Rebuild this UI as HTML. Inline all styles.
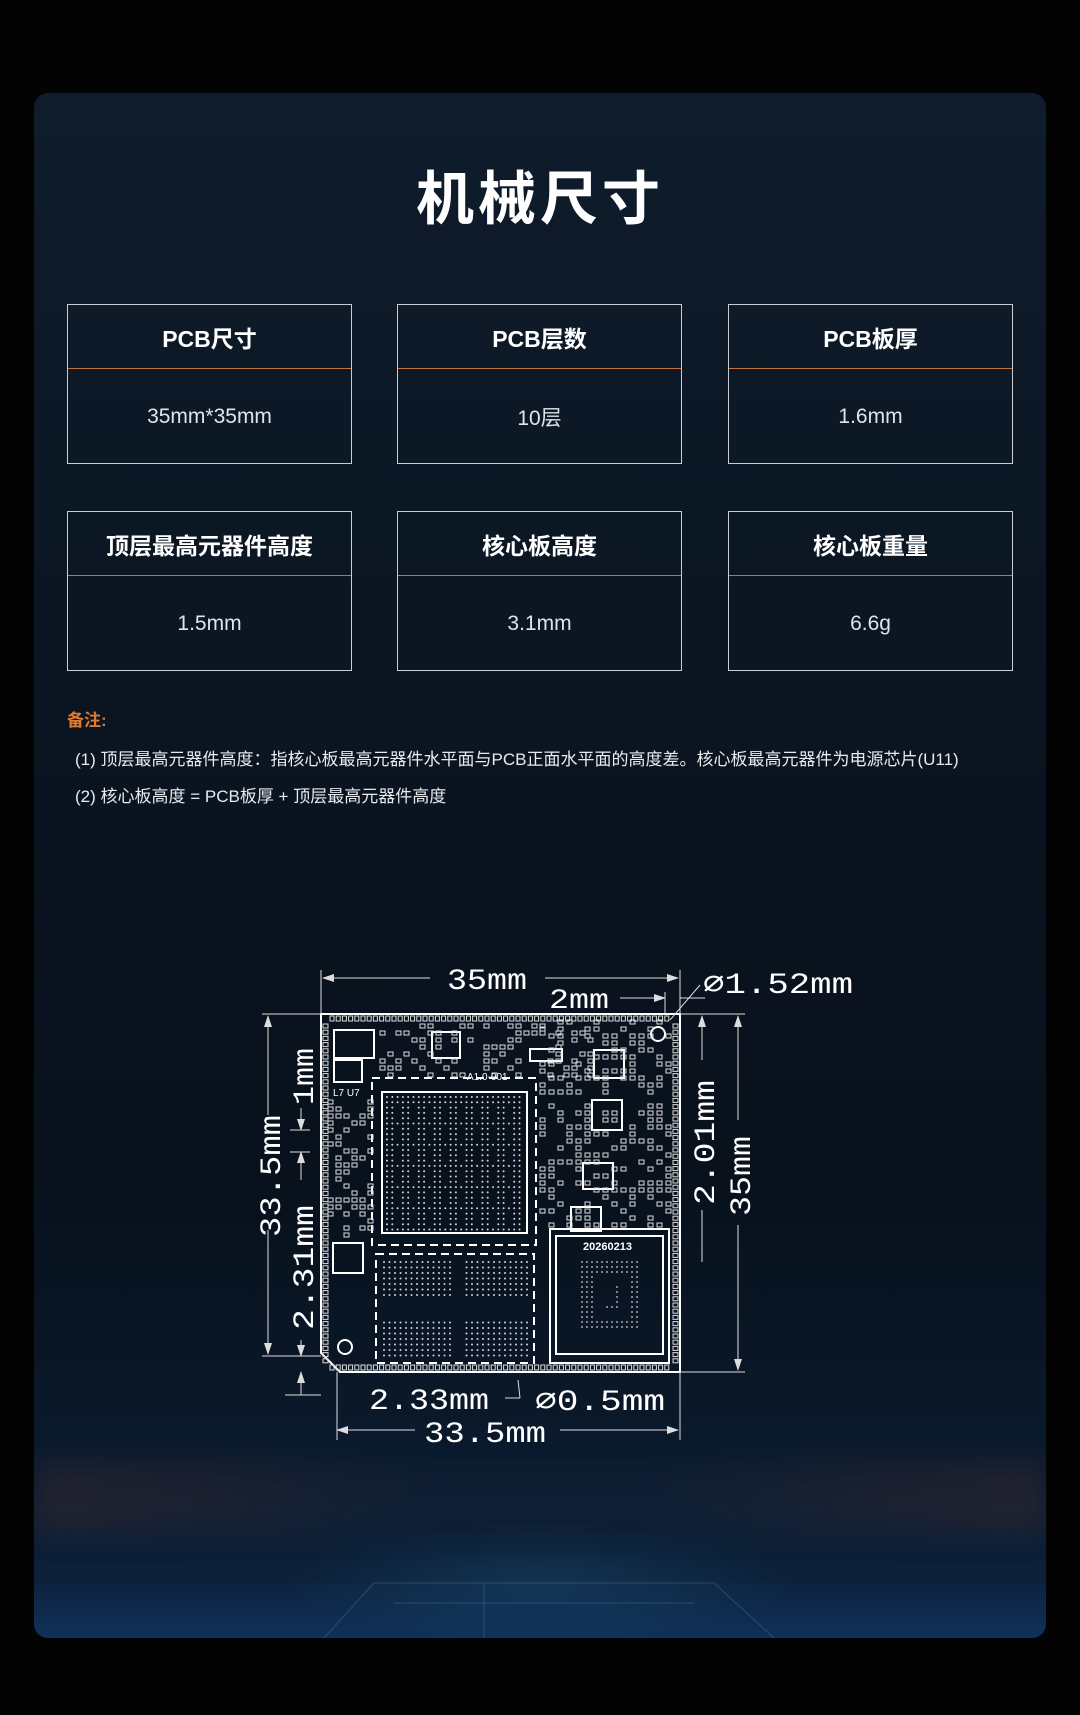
<!DOCTYPE html>
<html><head><meta charset="utf-8">
<style>
html,body{margin:0;padding:0;background:#030303;}
body{width:1080px;height:1715px;position:relative;overflow:hidden;font-family:"Liberation Sans","Noto Sans CJK SC",sans-serif;}
.card{position:absolute;left:34px;top:93px;width:1012px;height:1545px;border-radius:14px;overflow:hidden;
background:linear-gradient(180deg,#0f1c2b 0%,#0b1521 40%,#08111c 70%,#0a1829 85%,#0c2340 100%);}
.glow1{position:absolute;left:0;right:0;top:1370px;height:70px;background:linear-gradient(90deg,rgba(120,60,40,.22),rgba(50,50,70,.08) 40%,rgba(50,50,70,.08) 60%,rgba(120,60,40,.22));filter:blur(14px);}
.glow2{position:absolute;left:250px;width:512px;top:1430px;height:120px;background:radial-gradient(ellipse at center,rgba(40,110,150,.25),rgba(0,0,0,0) 70%);}
.floor{position:absolute;left:0;right:0;top:1490px;height:55px;background:linear-gradient(180deg,rgba(20,60,110,.1),rgba(22,75,135,.35));}
h1{position:absolute;left:0;width:1080px;top:152px;margin:0;text-align:center;color:#fff;font-size:58px;font-weight:bold;letter-spacing:4px;}
.box{position:absolute;width:285px;height:160px;border:1px solid #c9ced6;box-sizing:border-box;}
.box .h{height:63px;border-bottom:1px solid #c8703a;color:#fff;font-weight:bold;font-size:23px;display:flex;align-items:center;justify-content:center;}
.box .v{height:96px;color:#e0e4ea;font-size:21px;display:flex;align-items:center;justify-content:center;}
.note{position:absolute;left:67px;color:#e8eaee;font-size:17px;}
</style></head><body>
<div class="card"><div class="glow1"></div><div class="glow2"></div><div class="floor"></div>
<svg width="1012" height="1545" style="position:absolute;left:0;top:0" stroke="rgba(120,170,200,.25)" fill="none">
<path d="M340,1490 H680 L740,1545 M340,1490 L290,1545 M360,1510 H660 M450,1490 V1545"/>
</svg></div>
<h1>机械尺寸</h1>
<div class="box" style="left:67px;top:304px"><div class="h">PCB尺寸</div><div class="v">35mm*35mm</div></div>
<div class="box" style="left:397px;top:304px"><div class="h">PCB层数</div><div class="v">10层</div></div>
<div class="box" style="left:728px;top:304px"><div class="h">PCB板厚</div><div class="v">1.6mm</div></div>
<div class="box" style="left:67px;top:511px"><div class="h">顶层最高元器件高度</div><div class="v">1.5mm</div></div>
<div class="box" style="left:397px;top:511px"><div class="h">核心板高度</div><div class="v">3.1mm</div></div>
<div class="box" style="left:728px;top:511px"><div class="h">核心板重量</div><div class="v">6.6g</div></div>
<div class="note" style="top:706px;color:#e07a2e;font-weight:bold;">备注:</div>
<div class="note" style="top:745px;left:75px;">(1) 顶层最高元器件高度：指核心板最高元器件水平面与PCB正面水平面的高度差。核心板最高元器件为电源芯片(U11)</div>
<div class="note" style="top:782px;left:75px;">(2) 核心板高度 = PCB板厚 + 顶层最高元器件高度</div>

<svg id="s" width="1080" height="1715" style="position:absolute;left:0;top:0" xmlns="http://www.w3.org/2000/svg">
<defs><marker id="a" markerWidth="12" markerHeight="8" refX="11" refY="4" orient="auto-start-reverse" markerUnits="userSpaceOnUse"><path d="M0,0 L12,4 L0,8 Z" fill="#ddd"/></marker></defs>
<g stroke="#fff" fill="none" stroke-width="2">
<path d="M321,1014 H680 V1372 H340 L321,1353 Z"/>
<rect x="372" y="1078" width="164" height="167" stroke-dasharray="8 5"/>
<rect x="382" y="1092" width="145" height="141"/>
<rect x="376" y="1254" width="158" height="109" stroke-dasharray="8 5"/>
<rect x="550" y="1229" width="119" height="134"/>
<rect x="556" y="1236" width="107" height="118"/>
<rect x="334" y="1030" width="40" height="28"/>
<rect x="334" y="1060" width="28" height="22"/>
<rect x="432" y="1032" width="28" height="26"/>
<rect x="594" y="1050" width="30" height="28"/>
<rect x="592" y="1100" width="30" height="30"/>
<rect x="583" y="1163" width="30" height="26"/>
<rect x="571" y="1207" width="30" height="24"/>
<rect x="333" y="1243" width="30" height="30"/>
<rect x="530" y="1049" width="32" height="12"/>
<circle cx="658" cy="1034" r="7"/><circle cx="345" cy="1347" r="7"/>
</g>
<g id="pads" stroke="#ddd" fill="none" stroke-width="1"></g>
<g id="dots" fill="#cfd3d8"></g>
<g stroke="#ddd" stroke-width="1" fill="none">
<line x1="321" y1="970" x2="321" y2="1014"/><line x1="680" y1="970" x2="680" y2="1014"/>
<line x1="323" y1="978" x2="430" y2="978" marker-start="url(#a)"/><line x1="545" y1="978" x2="678" y2="978" marker-end="url(#a)"/>
<line x1="620" y1="998" x2="665" y2="998" marker-end="url(#a)"/><line x1="665" y1="992" x2="665" y2="1014"/>
<line x1="680" y1="998" x2="705" y2="998"/><line x1="700" y1="985" x2="670" y2="1020"/>
<line x1="680" y1="1014" x2="745" y2="1014"/><line x1="680" y1="1372" x2="745" y2="1372"/>
<line x1="738" y1="1016" x2="738" y2="1120" marker-start="url(#a)"/><line x1="738" y1="1225" x2="738" y2="1370" marker-end="url(#a)"/>
<line x1="702" y1="1016" x2="702" y2="1060" marker-start="url(#a)"/><line x1="702" y1="1210" x2="702" y2="1262"/>
<line x1="262" y1="1014" x2="321" y2="1014"/><line x1="262" y1="1356" x2="321" y2="1356"/>
<line x1="268" y1="1016" x2="268" y2="1115" marker-start="url(#a)"/><line x1="268" y1="1230" x2="268" y2="1354" marker-end="url(#a)"/>
<line x1="301" y1="1108" x2="301" y2="1130" marker-end="url(#a)"/><line x1="301" y1="1180" x2="301" y2="1152" marker-end="url(#a)"/>
<line x1="290" y1="1130" x2="310" y2="1130"/><line x1="290" y1="1152" x2="310" y2="1152"/>
<line x1="301" y1="1340" x2="301" y2="1356" marker-end="url(#a)"/><line x1="301" y1="1395" x2="301" y2="1372" marker-end="url(#a)"/>
<line x1="285" y1="1395" x2="321" y2="1395"/><line x1="337" y1="1372" x2="337" y2="1440"/><line x1="680" y1="1372" x2="680" y2="1440"/>
<line x1="337" y1="1430" x2="415" y2="1430" marker-start="url(#a)"/><line x1="560" y1="1430" x2="678" y2="1430" marker-end="url(#a)"/>
<line x1="505" y1="1398" x2="520" y2="1398"/><line x1="520" y1="1398" x2="518" y2="1380"/>
</g>
<g fill="#fff" font-family="Liberation Mono, DejaVu Sans Mono, monospace" font-size="30">
<text x="447" y="989" textLength="80" lengthAdjust="spacingAndGlyphs">35mm</text>
<text x="549" y="1008" textLength="60" lengthAdjust="spacingAndGlyphs" font-size="28">2mm</text>
<text x="703" y="993" textLength="150" lengthAdjust="spacingAndGlyphs">⌀1.52mm</text>
<text x="369" y="1409" textLength="120" lengthAdjust="spacingAndGlyphs">2.33mm</text>
<text x="535" y="1410" textLength="130" lengthAdjust="spacingAndGlyphs">⌀0.5mm</text>
<text x="424" y="1442" textLength="122" lengthAdjust="spacingAndGlyphs">33.5mm</text>
<text transform="translate(280,1237) rotate(-90)" textLength="122" lengthAdjust="spacingAndGlyphs">33.5mm</text>
<text transform="translate(313,1105) rotate(-90)" textLength="57" lengthAdjust="spacingAndGlyphs">1mm</text>
<text transform="translate(313,1330) rotate(-90)" textLength="125" lengthAdjust="spacingAndGlyphs">2.31mm</text>
<text transform="translate(714,1205) rotate(-90)" textLength="125" lengthAdjust="spacingAndGlyphs">2.01mm</text>
<text transform="translate(750,1216) rotate(-90)" textLength="80" lengthAdjust="spacingAndGlyphs">35mm</text>
<text x="583" y="1250" font-size="11" font-family="Liberation Sans, sans-serif" font-weight="bold">20260213</text>
<text x="333" y="1096" font-size="10" font-family="Liberation Sans, sans-serif">L7 U7</text>
<text x="467" y="1080" font-size="10" font-family="Liberation Sans, sans-serif">A1.0-001</text>
</g>
</svg>
<script>
var seed=7;function rnd(){seed=(seed*9301+49297)%233280;return seed/233280;}
var ns="http://www.w3.org/2000/svg",p=document.getElementById('pads'),d=document.getElementById('dots');
function r(x,y,w,h){var e=document.createElementNS(ns,'rect');e.setAttribute('x',x);e.setAttribute('y',y);e.setAttribute('width',w);e.setAttribute('height',h);p.appendChild(e);}
function c(x,y,rad){var e=document.createElementNS(ns,'circle');e.setAttribute('cx',x);e.setAttribute('cy',y);e.setAttribute('r',rad||1);d.appendChild(e);}
for(var x=330;x<670;x+=6.2){r(x,1016,4,5);r(x,1365,4,5);}
for(var y=1024;y<1362;y+=6.2){r(323,y,5,4);r(673,y,5,4);}
for(var y=1020;y<1230;y+=7){for(var x=540;x<668;x+=9){if(rnd()<0.4)r(x,y,5,4);}}
for(var y=1100;y<1245;y+=7){for(var x=328;x<370;x+=8){if(rnd()<0.35)r(x,y,5,4);}}
for(var y=1024;y<1075;y+=7){for(var x=380;x<590;x+=8){if(rnd()<0.3)r(x,y,5,4);}}
for(var y=1097;y<1230;y+=5.3){for(var x=387;x<524;x+=5.3){if((Math.floor((x-387)/5.3)%3!=2)||(Math.floor((y-1097)/5.3)%4==0))c(x,y,1);}}
for(var y=1262;y<1358;y+=5.5){if(y>1300&&y<1318)continue;for(var x=384;x<528;x+=5.5){if(x>454&&x<466)continue;c(x,y,1);}}
for(var y=1262;y<1330;y+=5){for(var x=582;x<640;x+=5){var inner=(x>595&&x<628&&y>1275&&y<1318);if(!inner||((x>603&&x<620)&&(y>1284&&y<1308)&&(x<606||x>616||y<1287||y>1305)))c(x,y,0.9);}}
</script>
</body></html>
